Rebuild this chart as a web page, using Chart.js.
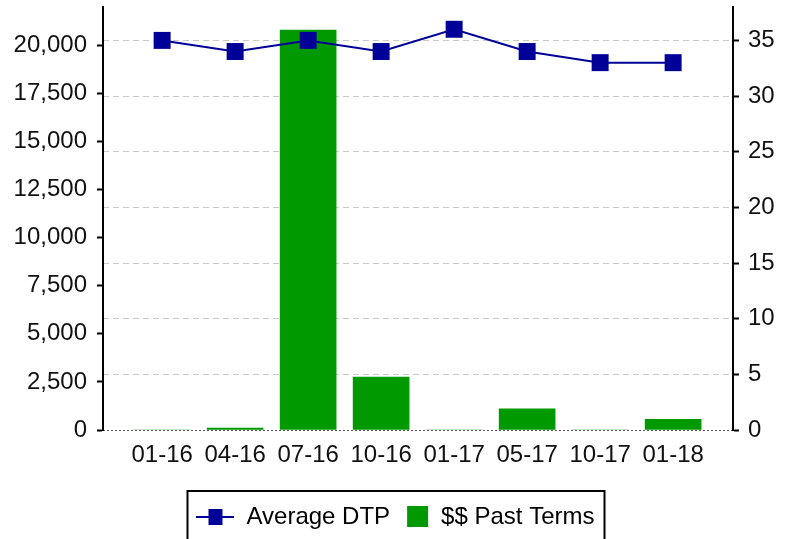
<!DOCTYPE html>
<html>
<head>
<meta charset="utf-8">
<script src="https://cdn.jsdelivr.net/npm/chart.js@4.4.1/dist/chart.umd.min.js"></script>
<style>
  html, body { margin: 0; padding: 0; background: #fff; }
  #wrap { width: 791px; height: 539px; }
</style>
</head>
<body>
<div id="wrap"><canvas id="dtpChart"></canvas></div>
<script>
// data
const labels = ["01-16", "04-16", "07-16", "10-16", "01-17", "05-17", "10-17", "01-18"];
const avgDtp = [35, 34, 35, 34, 36, 34, 33, 33];
const pastTerms = [0, 100, 20800, 2750, 0, 1100, 0, 550];
const leftTicks = [0, 2500, 5000, 7500, 10000, 12500, 15000, 17500, 20000];
const rightTicks = [0, 5, 10, 15, 20, 25, 30, 35];

const navy = "#000099";
const green = "#009900";
const font = { family: "'Liberation Sans', Arial, sans-serif", size: 24 };

// legend markers: line with a square, and a plain square
function lineMarker() {
  const c = document.createElement("canvas");
  c.width = 38; c.height = 22;
  const g = c.getContext("2d");
  g.strokeStyle = navy; g.lineWidth = 2;
  g.beginPath(); g.moveTo(0, 11); g.lineTo(38, 11); g.stroke();
  g.fillStyle = navy; g.fillRect(12, 3, 14, 16);
  return c;
}
function boxMarker() {
  const c = document.createElement("canvas");
  c.width = 38; c.height = 22;
  const g = c.getContext("2d");
  g.fillStyle = green; g.fillRect(16, 0, 21, 21);
  return c;
}
const markers = [lineMarker(), boxMarker()];

// frame round the legend
const legendFrame = {
  id: "legendFrame",
  afterDraw(chart) {
    const boxes = chart.legend.legendHitBoxes;
    if (!boxes || !boxes.length) return;
    const first = boxes[0], last = boxes[boxes.length - 1];
    const left = first.left - 9;
    const right = last.left + last.width + 10;
    const ctx = chart.ctx;
    ctx.save();
    ctx.strokeStyle = "#000";
    ctx.lineWidth = 2;
    ctx.strokeRect(left, first.top - 14, right - left, 80);
    ctx.restore();
  }
};

// fixed box sizes so the plot area lands where it does in the reference
function fixVertical(width) {
  return axis => {
    axis.width = width;
    axis.paddingTop = 0;
    axis.paddingBottom = 0;
  };
}

const ctx = document.getElementById("dtpChart").getContext("2d");

new Chart(ctx, {
  type: "bar",
  data: {
    datasets: [{
      type: "line",
      label: "Average DTP",
      data: avgDtp.map((v, i) => ({ x: i, y: v })),
      yAxisID: "y1",
      borderColor: navy,
      backgroundColor: navy,
      borderWidth: 2,
      pointStyle: "rect",
      pointRadius: 12,
      pointBackgroundColor: navy,
      pointBorderWidth: 0,
      tension: 0,
      order: 0
    }, {
      type: "bar",
      label: "$$ Past Terms",
      data: pastTerms.map((v, i) => ({ x: i, y: v })),
      yAxisID: "y",
      backgroundColor: green,
      barThickness: 56,
      order: 1
    }]
  },
  options: {
    responsive: true,
    maintainAspectRatio: false,
    animation: false,
    layout: { autoPadding: false, padding: { top: 7 } },
    scales: {
      x: {
        type: "linear",
        offset: false,
        min: -0.81,
        max: 7.82,
        grid: { display: false, drawTicks: false },
        border: { display: false },
        afterBuildTicks: axis => { axis.ticks = labels.map((_, i) => ({ value: i })); },
        afterFit: axis => {
          axis.height = 74;
          axis.paddingLeft = 0;
          axis.paddingRight = 0;
        },
        ticks: {
          autoSkip: false,
          maxRotation: 0,
          padding: 11,
          color: "#111",
          font: font,
          callback: v => labels[v]
        }
      },
      y: {
        position: "left",
        min: 0,
        max: 22000,
        afterBuildTicks: axis => { axis.ticks = leftTicks.map(v => ({ value: v })); },
        afterFit: fixVertical(103),
        grid: { drawOnChartArea: false, tickLength: 6, tickColor: "#000", tickWidth: 2 },
        border: { color: "#000", width: 2 },
        ticks: {
          padding: 10,
          color: "#111",
          font: font,
          callback: v => v.toLocaleString("en-US")
        }
      },
      y1: {
        position: "right",
        min: 0,
        max: 38,
        afterBuildTicks: axis => { axis.ticks = rightTicks.map(v => ({ value: v })); },
        afterFit: fixVertical(58),
        grid: {
          color: c => (c.tick && c.tick.value === 0) ? "#555" : "#c8c8c8",
          lineWidth: 1,
          tickLength: 6,
          tickColor: "#000",
          tickWidth: 2
        },
        border: {
          color: "#000",
          width: 2,
          dash: c => (c.tick && c.tick.value === 0) ? [2, 2] : [6, 4]
        },
        ticks: {
          padding: 9,
          color: "#111",
          font: font
        }
      }
    },
    plugins: {
      tooltip: { enabled: false },
      legend: {
        position: "bottom",
        labels: {
          usePointStyle: true,
          pointStyleWidth: 38,
          padding: 1,
          color: "#111",
          font: font,
          generateLabels: chart => chart.data.datasets.map((ds, i) => ({
            text: ds.label,
            pointStyle: markers[i],
            fillStyle: ds.backgroundColor,
            strokeStyle: ds.backgroundColor,
            lineWidth: 0,
            hidden: false,
            datasetIndex: i
          }))
        }
      }
    }
  },
  plugins: [legendFrame]
});
</script>
</body>
</html>
